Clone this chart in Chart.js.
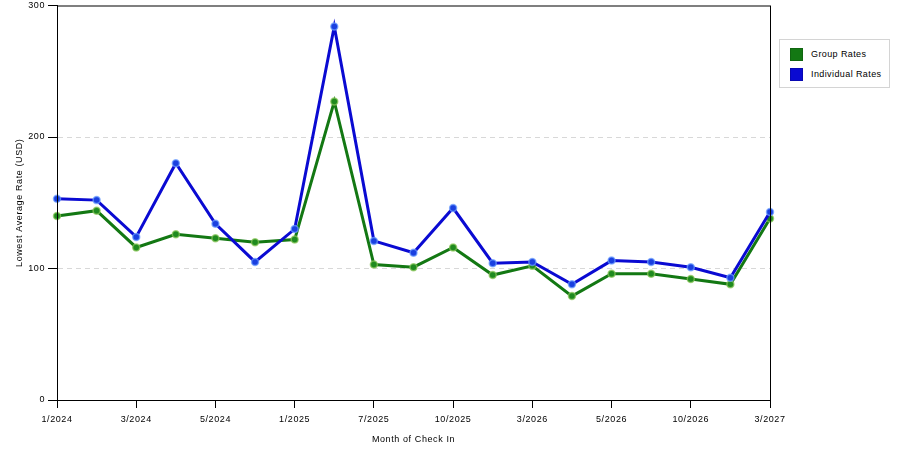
<!DOCTYPE html>
<html>
<head>
<meta charset="utf-8">
<script src="https://cdn.jsdelivr.net/npm/chart.js@4.4.1/dist/chart.umd.min.js"></script>
<style>
  html, body { margin: 0; padding: 0; background: #fff; }
  #wrap { position: relative; width: 900px; height: 450px; }
  #legend {
    position: absolute; left: 779px; top: 39px; width: 109px; height: 47px;
    border: 1px solid #d4d4d4; background: #fff;
    font-family: "Liberation Sans", Arial, sans-serif; font-size: 9px; letter-spacing: 0.4px; color: #000;
  }
  .item { position: absolute; left: 10px; height: 13px; line-height: 13px; }
  .swatch { display: inline-block; width: 13px; height: 13px; vertical-align: middle; margin-right: 8px; border: 1px solid rgba(0,0,0,0.15); box-sizing: border-box; }
</style>
</head>
<body>
<div id="wrap">
  <canvas id="chart" width="900" height="450"></canvas>
  <div id="legend"></div>
</div>
<script>
// Month of check in (only every other month is labelled on the axis)
const monthLabels = [
  "1/2024", "", "3/2024", "", "5/2024", "", "1/2025", "", "7/2025", "",
  "10/2025", "", "3/2026", "", "5/2026", "", "10/2026", "", "3/2027",
];

// Lowest average rate (USD)
const groupRates = [140, 144, 116, 126, 123, 120, 122, 227, 103, 101, 116, 95, 102, 79, 96, 96, 92, 88, 138];
const individualRates = [153, 152, 124, 180, 134, 105, 130, 284, 121, 112, 146, 104, 105, 88, 106, 105, 101, 93, 143];

const yTicks = [0, 100, 200, 300];

const GREEN = "#137813";
const BLUE = "#0a0ad2";
const FONT = { family: "'Liberation Sans', Arial, sans-serif", size: 9 };

// Draw the legend box to the right of the plot
const legendBox = document.getElementById("legend");
[["Group Rates", GREEN], ["Individual Rates", BLUE]].forEach(([name, color], i) => {
  const item = document.createElement("div");
  item.className = "item";
  item.style.top = (8 + i * 20) + "px";
  item.innerHTML = `<span class="swatch" style="background:${color}"></span>${name}`;
  legendBox.appendChild(item);
});

// Wide letter spacing like the original renderer (canvas state resets on resize)
const spacing = {
  id: "spacing",
  beforeUpdate(chart) { chart.ctx.letterSpacing = "0.6px"; },
  beforeDraw(chart) { chart.ctx.letterSpacing = "0.6px"; },
};

// Box around the plot area (top and right edges)
const frame = {
  id: "frame",
  afterDraw(chart) {
    const { ctx, chartArea } = chart;
    ctx.save();
    ctx.strokeStyle = "#000";
    ctx.lineWidth = 1;
    ctx.strokeRect(chartArea.left + 0.5, chartArea.top + 0.5, chartArea.width, chartArea.height);
    ctx.restore();
  },
};

function series(values, color, pointFill, pointBorder) {
  return {
    data: values.map((v, i) => ({ x: i, y: v })),
    borderColor: color,
    borderWidth: 3,
    pointRadius: 3.5,
    pointBackgroundColor: pointFill,
    pointBorderColor: pointBorder,
    pointBorderWidth: 1.5,
    tension: 0,
    clip: false,
  };
}

new Chart(document.getElementById("chart"), {
  type: "line",
  data: {
    datasets: [
      series(individualRates, BLUE, "#1a40e0", "rgba(110,160,255,0.7)"),
      series(groupRates, GREEN, "#1f8a1f", "rgba(140,200,90,0.7)"),
    ],
  },
  options: {
    responsive: false,
    animation: false,
    layout: { padding: { left: 0, right: 130, top: 4, bottom: 0 } },
    plugins: { legend: { display: false }, tooltip: { enabled: false } },
    scales: {
      x: {
        type: "linear",
        min: 0,
        max: monthLabels.length - 1,
        afterFit: (scale) => { scale.height = 50; },
        ticks: {
          stepSize: 2,
          autoSkip: false,
          maxRotation: 0,
          color: "#000",
          font: FONT,
          padding: 6,
          callback: (v) => monthLabels[v],
        },
        grid: { drawOnChartArea: false, drawTicks: true, tickLength: 8, tickColor: "#000" },
        border: { color: "#000", width: 1 },
        title: { display: true, text: "Month of Check In", color: "#000", font: FONT, padding: { top: 2, bottom: 5 } },
      },
      y: {
        min: 0,
        max: 300,
        afterBuildTicks: (scale) => { scale.ticks = yTicks.map((v) => ({ value: v })); },
        afterFit: (scale) => { scale.width = 57; scale.paddingTop = 0; scale.paddingBottom = 0; },
        ticks: { color: "#000", font: FONT, padding: 3 },
        grid: {
          color: (c) => (c.tick && (c.tick.value === 0 || c.tick.value === 300) ? "rgba(0,0,0,0)" : "#d8d8d8"),
          tickColor: "#000",
          tickLength: 9,
          tickBorderDash: [],
        },
        border: { color: "#000", width: 1, dash: [5, 4] },
        title: { display: true, text: "Lowest Average Rate (USD)", color: "#000", font: FONT, padding: { top: 14, bottom: 0 } },
      },
    },
  },
  plugins: [spacing, frame],
});
</script>
</body>
</html>
